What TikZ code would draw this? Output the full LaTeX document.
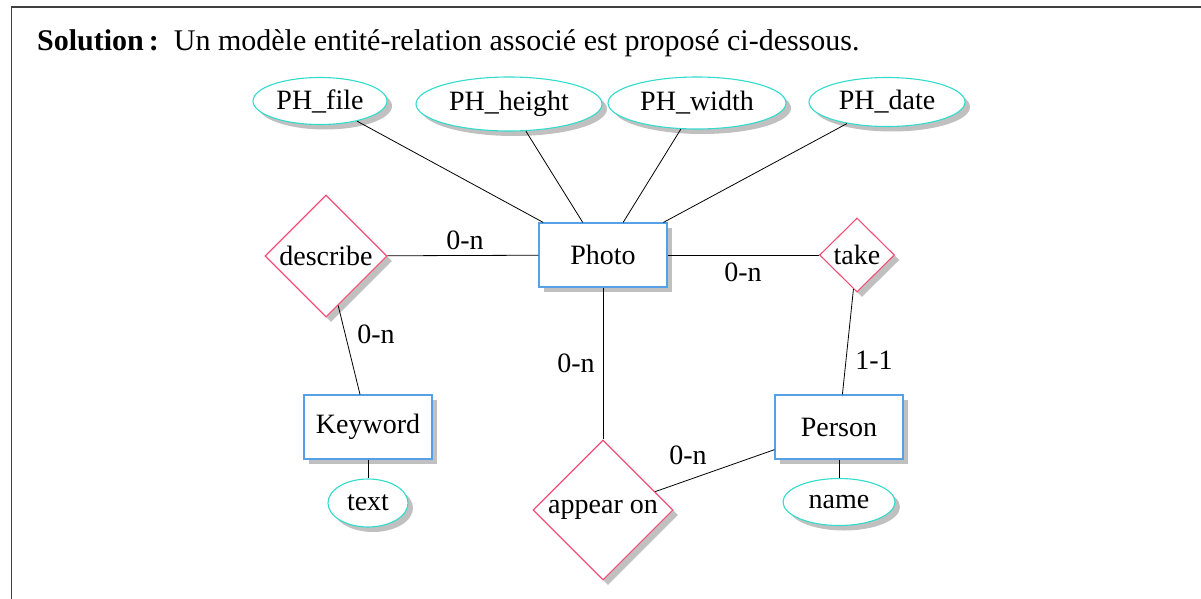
\documentclass[tikz,border=0pt]{standalone}
\usepackage{fontspec}
\setmainfont{Liberation Serif}
\usetikzlibrary{shapes.geometric,shadows}
\definecolor{relc}{RGB}{240,80,120}
\definecolor{entc}{RGB}{85,160,230}
\definecolor{attc}{RGB}{50,220,205}
\definecolor{shc}{RGB}{192,192,192}
\tikzset{
  txt/.style={font=\fontsize{28}{33}\selectfont},
  erbase/.style={txt, fill=white, line width=1.1pt, inner sep=0pt,
    drop shadow={shadow xshift=5pt, shadow yshift=-5pt, fill=shc, opacity=1}},
  entity/.style={erbase, rectangle, draw=entc, minimum width=128pt, minimum height=64pt},
  attrib/.style={erbase, ellipse, draw=attc},
  relation/.style={erbase, diamond, draw=relc, aspect=1},
  conn/.style={line width=0.8pt, black},
  card/.style={txt, inner sep=0pt}
}
\begin{document}
\begin{tikzpicture}[x=1pt,y=-1pt]
\useasboundingbox (0,0) rectangle (1201,599);
\draw[line width=1.5pt, black!75] (11.5,599) -- (11.5,7) -- (1201,7);
\node[font=\fontsize{30}{35}\selectfont, anchor=base west, inner sep=0pt] (title) at (37,51)
  {\textbf{Solution\,:}\enspace Un modèle entité-relation associé est proposé ci-dessous.};

\node[attrib, minimum width=134pt, minimum height=47pt] (phfile) at (320,101) {PH\_file};
\node[attrib, minimum width=186pt, minimum height=54pt] (phheight) at (509,104) {PH\_height};
\node[attrib, minimum width=178pt, minimum height=52pt] (phwidth) at (697,103) {PH\_width};
\node[attrib, minimum width=156pt, minimum height=49pt] (phdate) at (887,102) {PH\_date};

\node[entity] (photo) at (603,255) {Photo};
\node[entity] (keyword) at (368,427) {Keyword};
\node[entity] (person) at (839,427) {Person};

\node[relation, minimum width=122pt, minimum height=122pt] (describe) at (326,256) {describe};
\node[relation, minimum width=75pt, minimum height=74pt] (take) at (857,255) {take};
\node[relation, minimum width=140pt, minimum height=140pt] (appear) at (603,510) {appear on};

\node[attrib, minimum width=80pt, minimum height=48pt] (text) at (368,503) {text};
\node[attrib, minimum width=112pt, minimum height=47pt] (name) at (839,502) {name};

\draw[conn] (phfile) -- (photo);
\draw[conn] (phheight) -- (photo);
\draw[conn] (phwidth) -- (photo);
\draw[conn] (phdate) -- (photo);
\draw[conn] (describe) -- (photo);
\draw[conn] (photo) -- (take);
\draw[conn] (describe) -- (keyword);
\draw[conn] (take) -- (person);
\draw[conn] (photo) -- (appear);
\draw[conn] (appear) -- (person);
\draw[conn] (keyword) -- (text);
\draw[conn] (person) -- (name);

\node[card] (c1) at (465,240) {0-n};
\node[card] (c2) at (743,272) {0-n};
\node[card] (c3) at (376,334) {0-n};
\node[card] (c4) at (874,360) {1-1};
\node[card] (c5) at (576,363) {0-n};
\node[card] (c6) at (688,455) {0-n};
\end{tikzpicture}
\end{document}
